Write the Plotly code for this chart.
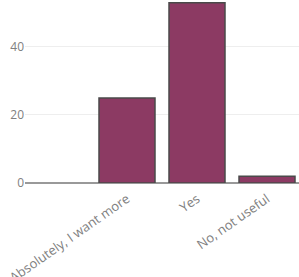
import plotly.graph_objects as go

categories = ["Absolutely, I want more", "Yes", "No, not useful"]
values = [25, 53, 2]
y_ticks = [0, 20, 40]

fig = go.Figure(go.Bar(
    x=categories,
    y=values,
    marker=dict(color="#8c3a63", line=dict(color="#4a4a4a", width=1.5)),
))

fig.update_layout(
    width=299, height=277,
    margin=dict(l=25, r=0, t=0, b=94),
    paper_bgcolor="white", plot_bgcolor="white",
    showlegend=False,
    bargap=0.2,
    font=dict(family="Open Sans", size=12, color="#808080"),
    xaxis=dict(range=[-1.457, 2.457], tickangle=-35, showgrid=False,
               showline=False, ticks="", tickfont=dict(size=13),
               ticklabelstandoff=5, automargin=False),
    yaxis=dict(range=[0, 53.8], tickvals=y_ticks, showgrid=True,
               gridcolor="#eeeeee", zeroline=True, zerolinecolor="#999999",
               zerolinewidth=2, ticks="", tickfont=dict(size=12),
               automargin=False),
)

fig.write_html("out.html",
               config={"displayModeBar": False},
               post_script="document.body.style.margin='0';document.body.style.overflow='hidden';")
